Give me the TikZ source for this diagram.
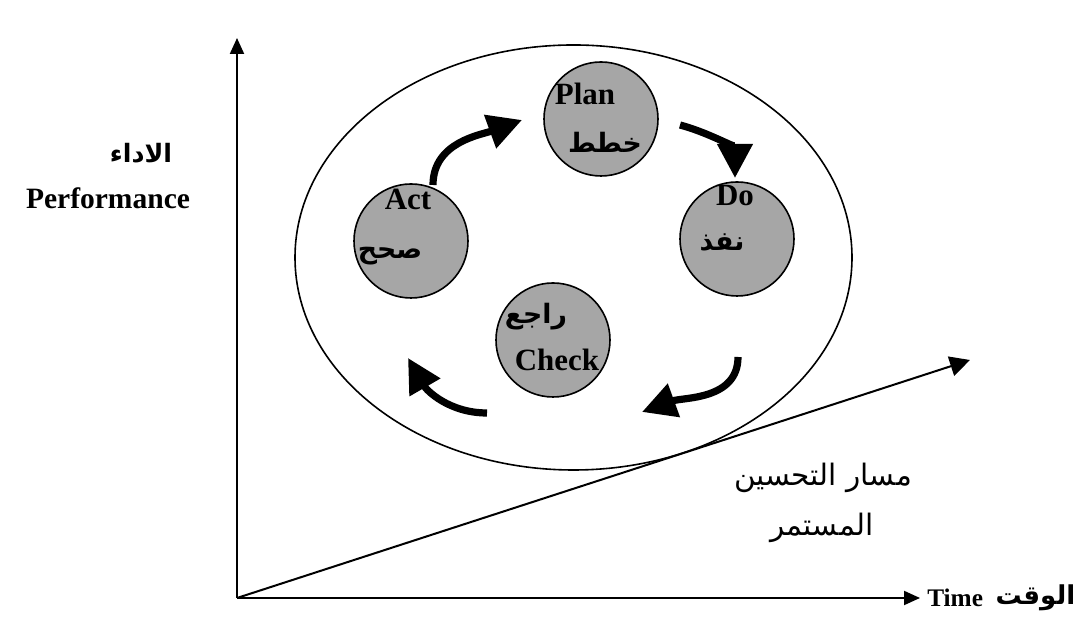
\documentclass[tikz,border=0pt]{standalone}
\usepackage{fontspec}
\setmainfont{Liberation Serif}
\newfontfamily\arabicfont[Script=Arabic]{DejaVu Sans}
\TeXXeTstate=1
\usetikzlibrary{shapes,arrows.meta,positioning}

\begin{document}
\begin{tikzpicture}[x=0.25mm,y=0.25mm]
% Define node styles
\tikzstyle{phase} = [circle, draw, line width=0.4mm, fill=black!35, minimum size=28.5mm, inner sep=0pt]
\tikzstyle{word} = [inner sep=0pt, font=\fontsize{22}{24}\selectfont\bfseries]
\tikzstyle{arab} = [inner sep=0pt, font=\arabicfont\fontsize{19}{22}\selectfont\bfseries]
\tikzstyle{sidear} = [inner sep=0pt, font=\arabicfont\fontsize{21}{24}\selectfont]
\tikzstyle{cycle} = [line width=1.8mm, -{Triangle[length=8.5mm,width=8.5mm]}]
\tikzstyle{axis} = [line width=0.5mm, -{Triangle[length=4mm,width=3.5mm]}]

\useasboundingbox (0,0) rectangle (1088,617);

% Axes and improvement line
\coordinate (o) at (237,19);
\coordinate (ytop) at (237,579);
\coordinate (xend) at (920,19);
\coordinate (trend) at (970,257);
\draw[axis] (o) -- (ytop);
\draw[axis] (o) -- (xend);
\draw[line width=0.5mm, -{Triangle[length=5mm,width=5mm]}] (o) -- (trend);

% Draw the big loop
\node[ellipse, draw, line width=0.4mm, minimum width=139.25mm, minimum height=106.25mm] (loop) at (573.5,359.5) {};

% Draw nodes
\node[phase] (plan) at (601,498) {};
\node[phase] (do) at (737,378) {};
\node[phase] (check) at (553,277) {};
\node[phase] (act) at (411,376) {};

% Labels in the circles
\node[word] (planEn) at (585,523) {Plan};
\node[arab] (planAr) at (605,475) {\beginR خطط\endR};
\node[word] (doEn) at (735,421) {Do};
\node[arab] (doAr) at (722,375) {\beginR نفذ\endR};
\node[arab] (checkAr) at (536,300) {\beginR راجع\endR};
\node[word] (checkEn) at (557,257) {Check};
\node[word] (actEn) at (408,418) {Act};
\node[arab] (actAr) at (390,361) {\beginR صحح\endR};

% Side labels
\node[arab, font=\arabicfont\fontsize{18}{22}\selectfont\bfseries] (perfAr) at (141,464) {\beginR الاداء\endR};
\node[word, font=\fontsize{21}{24}\selectfont\bfseries] (perfEn) at (108,419) {Performance};
\node[sidear] (pathA) at (823,139) {\beginR مسار التحسين\endR};
\node[sidear] (pathB) at (822,89) {\beginR المستمر\endR};
\node[word, font=\fontsize{18}{22}\selectfont\bfseries] (time) [right=1.75mm of xend] {Time};
\node[sidear, font=\arabicfont\fontsize{18.5}{22}\selectfont\bfseries] (waqt) [right=3mm of time] {\beginR الوقت\endR};

% Draw edges
\coordinate (a1s) at (433,432);
\coordinate (a1e) at (522,497);
\coordinate (a2s) at (680,492);
\coordinate (a2e) at (735,439);
\coordinate (a3s) at (738,260);
\coordinate (a3e) at (642,205);
\coordinate (a4s) at (487,204);
\coordinate (a4e) at (408,259);
\draw[cycle] (a1s) to[out=90, in=200] (a1e);
\draw[cycle] (a2s) to[out=-15, in=90] (a2e);
\draw[cycle] (a3s) to[out=-90, in=20] (a3e);
\draw[cycle] (a4s) to[out=180, in=-60] (a4e);
\end{tikzpicture}
\end{document}
